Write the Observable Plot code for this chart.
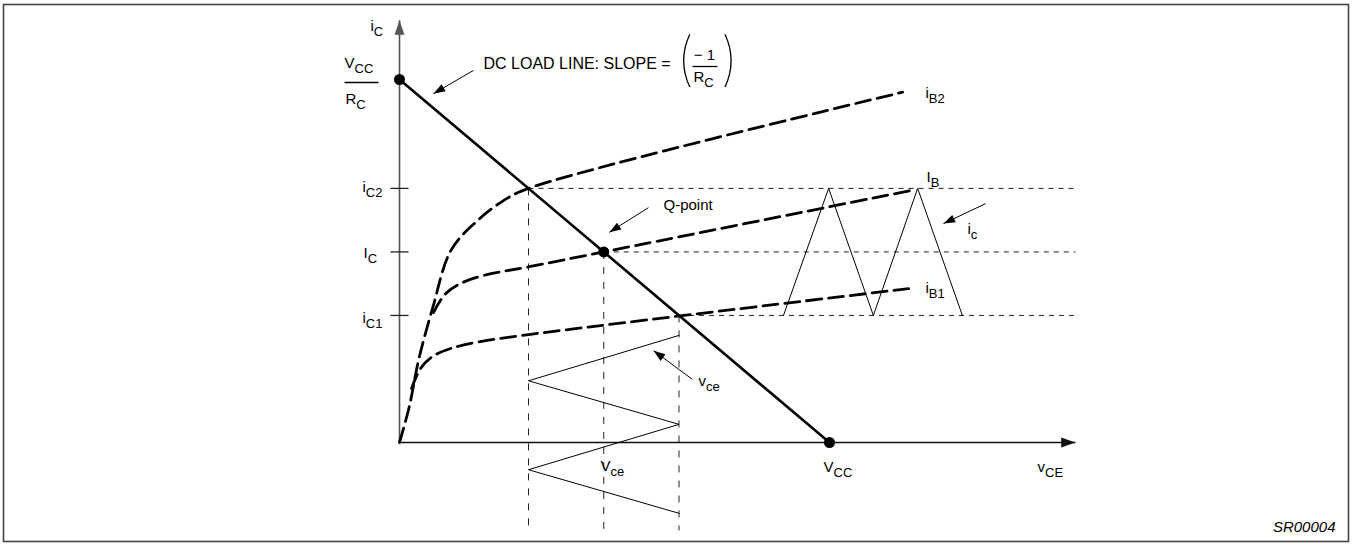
<!DOCTYPE html>
<html><head><meta charset="utf-8">
<script src="https://cdn.jsdelivr.net/npm/d3@7"></script>
<script src="https://cdn.jsdelivr.net/npm/@observablehq/plot@0.6"></script>
<style>html,body{margin:0;padding:0;background:#fff;} #chart svg{display:block;}</style>
</head><body><div id="chart"></div>
<script>
// ---------- data (vCE and iC in arbitrary units: VCC = 10, VCC/RC = 10) ----------
const VCC = 10, VCC_RC = 10;
const vCEpts = [3, 4.75, 6.5];          // vCE at iC2, Q-point, iC1
const iCpts  = [7, 5.25, 3.5];          // iC2, IC, iC1
const vMax = 15.72, iMax = 11.63, yLow = -2.42;
const iB2Curve = [[0,0],[0.23,1.0],[0.44,2.25],[0.77,3.7],[1.2,5.3],[1.8,6.1],[2.4,6.65],[3,7],[11.7,9.65]];
const iBCurve  = [[0.79,3.58],[1.07,4.10],[1.42,4.38],[1.95,4.6],[3.05,4.85],[4.75,5.25],[11.88,6.94]];
const iB1Curve = [[0.28,1.49],[0.49,2.04],[0.77,2.37],[1.19,2.59],[1.88,2.78],[3.05,2.98],[11.84,4.24]];
const vceWaveX = [6.5, 3, 6.5, 3, 6.5];
const vceWaveY = [2.95, 1.7, 0.5, -0.75, -1.95];
const icWaveX  = [8.93, 9.98, 11.02, 12.05, 13.09];
const icWaveY  = [3.5, 7, 3.5, 7, 3.5];
const noteArrows = [
  {x1:1.72, y1:10.25, x2:0.79, y2:9.61},
  {x1:5.79, y1:6.47,  x2:4.88, y2:5.79},
  {x1:6.81, y1:1.74,  x2:5.91, y2:2.53},
  {x1:13.63,y1:6.58,  x2:12.65,y2:6.03}
];
const axisArrows = [
  {x1:0, y1:0, x2:0, y2:iMax, c:"#555"},
  {x1:0, y1:0, x2:vMax, y2:0, c:"#111"}
];
const labels = [
  {t:"i_{C}",   x:-0.674, y:11.46},
  {t:"V_{CC}",  x:-1.279, y:10.44},
  {t:"R_{C}",   x:-1.256, y:9.449},
  {t:"i_{C2}",  x:-0.86,  y:7.025},
  {t:"I_{C}",   x:-0.837, y:5.207},
  {t:"i_{C1}",  x:-0.86,  y:3.416},
  {t:"R_{C}",   x:6.837,  y:10.055},
  {t:"i_{B2}",  x:12.233, y:9.614},
  {t:"I_{B}",   x:12.256, y:7.3},
  {t:"Q-point", x:6.14,   y:6.529},
  {t:"i_{c}",   x:13.209, y:5.868},
  {t:"i_{B1}",  x:12.233, y:4.242},
  {t:"v_{ce}",  x:6.953,  y:1.68},
  {t:"V_{ce}",  x:4.674,  y:-0.661},
  {t:"V_{CC}",  x:9.86,   y:-0.689},
  {t:"v_{CE}",  x:14.837, y:-0.689}
];
const titleText = [{t:"DC LOAD LINE: SLOPE =", x:1.953, y:10.44}];
const minusOne = [{t:"− 1", x:7.093, y:10.66}];
const parens = [{t:"(", x:6.651, y:10.52},{t:")", x:7.674, y:10.52}];
const fracBars = [{x1:-1.279, x2:-0.488, y:9.917},{x1:6.814, x2:7.395, y:10.358}];
const codeText = [{t:"SR00004", x:21.767, y:-2.342}];

// ---------- layout ----------
const W = 1352, H = 545, X0 = 399, Y0 = 442, KX = 43, KY = 36.3;
const xDomain = [-X0/KX, (W-X0)/KX];
const yDomain = [-(H-Y0)/KY, Y0/KY];
const FONT = "'Liberation Sans', Arial, Helvetica, sans-serif";

const headSymbol = {draw(ctx, size){
  const k = Math.sqrt(size/Math.PI)/5, L = 13*k, w = 9*k;
  ctx.moveTo(0,0); ctx.lineTo(-w/2,L); ctx.lineTo(w/2,L); ctx.closePath();
}};
const heads = arr => arr.map(a => {
  const pdx = (a.x2-a.x1)*KX, pdy = -(a.y2-a.y1)*KY;
  return {x:a.x2, y:a.y2, rot: Math.atan2(pdx, -pdy)*180/Math.PI, c:a.c || "#000"};
});

const hLines = iCpts.map((y,i) => ({x1:vCEpts[i], x2:vMax, y}));
const vLines = iCpts.map((y,i) => ({x:vCEpts[i], y1:y, y2:yLow}));
const ticks  = iCpts.map(y => ({y}));
const dots = [{x:0,y:VCC_RC},{x:vCEpts[1],y:iCpts[1]},{x:VCC,y:0}];
const vceWave = vceWaveX.map((x,i)=>({x, y:vceWaveY[i]}));
const icWave  = icWaveX.map((x,i)=>({x, y:icWaveY[i]}));

const chart = Plot.plot({
  width: W, height: H,
  marginTop: 0, marginRight: 0, marginBottom: 0, marginLeft: 0,
  x: {domain: xDomain, axis: null},
  y: {domain: yDomain, axis: null},
  style: {fontFamily: FONT, fontSize: "15px", background: "#fff", overflow: "visible"},
  marks: [
    Plot.frame({stroke:"#444", strokeWidth:1.6, insetLeft:3, insetTop:4, insetRight:4, insetBottom:4}),
    // thin dashed guides
    Plot.link(hLines, {x1:"x1", x2:"x2", y1:"y", y2:"y", stroke:"#222", strokeWidth:1, strokeDasharray:"5,5"}),
    Plot.link(vLines, {x1:"x", x2:"x", y1:"y1", y2:"y2", stroke:"#222", strokeWidth:1, strokeDasharray:"7,8"}),
    // axes
    Plot.link(axisArrows, {x1:"x1", y1:"y1", x2:"x2", y2:"y2", stroke:"c", strokeWidth:1.6}),
    Plot.dot(heads(axisArrows), {x:"x", y:"y", rotate:"rot", symbol:headSymbol, r:5.5, fill:"c", stroke:null}),
    Plot.link(ticks, {x1:-0.21, x2:0.21, y1:"y", y2:"y", stroke:"#222", strokeWidth:1.3}),
    // characteristic curves
    Plot.line(iB2Curve, {x:d=>d[0], y:d=>d[1], curve:"catmull-rom", stroke:"#000", strokeWidth:2.8, strokeDasharray:"15,7"}),
    Plot.line(iBCurve,  {x:d=>d[0], y:d=>d[1], curve:"catmull-rom", stroke:"#000", strokeWidth:2.8, strokeDasharray:"15,7"}),
    Plot.line(iB1Curve, {x:d=>d[0], y:d=>d[1], curve:"catmull-rom", stroke:"#000", strokeWidth:2.8, strokeDasharray:"15,7"}),
    // load line
    Plot.link([{}], {x1:0, y1:VCC_RC, x2:VCC, y2:0, stroke:"#000", strokeWidth:2.6}),
    // waves
    Plot.line(vceWave, {x:"x", y:"y", stroke:"#000", strokeWidth:1}),
    Plot.line(icWave,  {x:"x", y:"y", stroke:"#000", strokeWidth:1}),
    // annotation arrows
    Plot.link(noteArrows, {x1:"x1", y1:"y1", x2:"x2", y2:"y2", stroke:"#000", strokeWidth:1}),
    Plot.dot(heads(noteArrows), {x:"x", y:"y", rotate:"rot", symbol:headSymbol, r:4.5, fill:"#000", stroke:null}),
    // dots
    Plot.dot(dots, {x:"x", y:"y", r:5.5, fill:"#000"}),
    // fraction bars
    Plot.link(fracBars, {x1:"x1", x2:"x2", y1:"y", y2:"y", stroke:"#000", strokeWidth:1.3}),
    // texts
    Plot.text(labels, {x:"x", y:"y", text:"t", textAnchor:"start", lineAnchor:"middle", fontSize:15, fill:"#000"}),
    Plot.text(titleText, {x:"x", y:"y", text:"t", textAnchor:"start", lineAnchor:"middle", fontSize:16, fill:"#000"}),
    Plot.text(minusOne, {x:"x", y:"y", text:"t", textAnchor:"middle", lineAnchor:"middle", fontSize:15, fill:"#000"}),
    Plot.text(parens, {x:"x", y:"y", text:"t", textAnchor:"middle", lineAnchor:"middle", fontSize:58, fontWeight:100, fontFamily:"Inter, 'DejaVu Sans', sans-serif", fill:"#000"}),
    Plot.text(codeText, {x:"x", y:"y", text:"t", textAnchor:"end", lineAnchor:"middle", fontSize:15, fontStyle:"italic", fill:"#000"})
  ]
});

// subscripts: "a_{b}" -> a with lowered smaller b
chart.querySelectorAll("text").forEach(el => {
  const s = el.textContent;
  if (!s.includes("_{")) return;
  const parts = s.split(/_\{([^}]*)\}/);
  el.textContent = "";
  parts.forEach((p, i) => {
    if (!p) return;
    const ts = document.createElementNS("http://www.w3.org/2000/svg", "tspan");
    ts.textContent = p;
    if (i % 2 === 1) { ts.setAttribute("dy", "5"); ts.setAttribute("font-size", "13px"); }
    el.appendChild(ts);
  });
});

document.getElementById("chart").appendChild(chart);
</script>
</body></html>
